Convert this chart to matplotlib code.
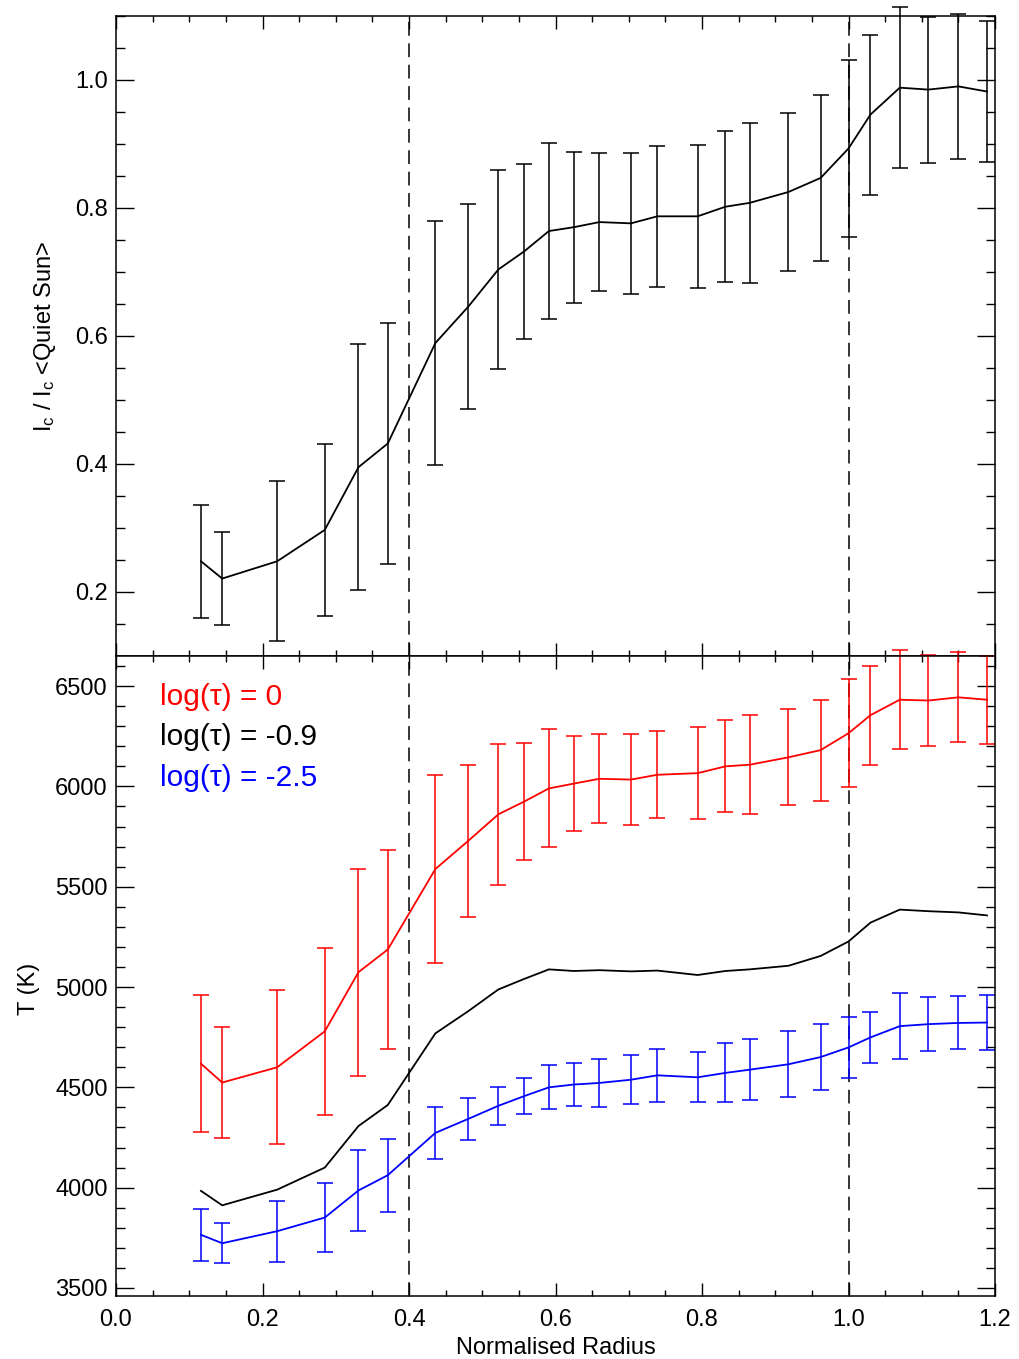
"""Continuum intensity and temperature against normalised radius, two stacked panels."""
import matplotlib
matplotlib.use("Agg")
import matplotlib.pyplot as plt
from matplotlib.ticker import MultipleLocator

plt.rcParams.update({
    "font.family": ["Liberation Sans", "DejaVu Sans"],
    "font.size": 17,
    "mathtext.default": "regular",
    "axes.linewidth": 1.1,
})

RED = "#ff0000"
BLUE = "#0000ff"
INK = "#000000"

radius = [0.116, 0.145, 0.220, 0.285, 0.331, 0.371, 0.436, 0.481, 0.522, 0.557,
          0.591, 0.625, 0.660, 0.703, 0.739, 0.794, 0.832, 0.865, 0.918, 0.962,
          1.000, 1.030, 1.070, 1.109, 1.150, 1.189]

# continuum intensity, normalised to the quiet sun
ic = [0.248, 0.221, 0.248, 0.297, 0.395, 0.432, 0.589, 0.646, 0.704, 0.732,
      0.764, 0.770, 0.778, 0.776, 0.787, 0.787, 0.802, 0.808, 0.825, 0.847,
      0.893, 0.946, 0.988, 0.985, 0.990, 0.982]
ic_err = [0.088, 0.072, 0.125, 0.135, 0.192, 0.188, 0.190, 0.160, 0.155, 0.137,
          0.138, 0.118, 0.108, 0.110, 0.110, 0.112, 0.118, 0.125, 0.124, 0.130,
          0.138, 0.125, 0.126, 0.114, 0.113, 0.110]

# temperature at log(tau) = 0
t0 = [4618, 4524, 4600, 4779, 5074, 5187, 5588, 5729, 5861, 5924,
      5990, 6014, 6038, 6034, 6058, 6066, 6100, 6108, 6145, 6181,
      6265, 6355, 6432, 6428, 6444, 6432]
t0_err = [340, 275, 383, 418, 515, 494, 467, 379, 352, 293,
          294, 238, 221, 227, 216, 228, 230, 247, 239, 252,
          270, 246, 247, 225, 225, 219]

# temperature at log(tau) = -0.9
t09 = [3984, 3912, 3990, 4100, 4307, 4412, 4769, 4880, 4988, 5040,
       5088, 5080, 5084, 5078, 5082, 5060, 5080, 5088, 5106, 5155,
       5227, 5321, 5386, 5378, 5372, 5357]

# temperature at log(tau) = -2.5
t25 = [3765, 3723, 3783, 3851, 3986, 4062, 4273, 4343, 4408, 4456,
       4500, 4514, 4522, 4538, 4560, 4550, 4572, 4588, 4615, 4651,
       4699, 4749, 4805, 4815, 4821, 4823]
t25_err = [131, 100, 153, 172, 200, 182, 130, 105, 95, 90,
           110, 107, 118, 122, 133, 124, 147, 153, 165, 165,
           153, 126, 165, 135, 132, 135]

boundaries = [0.4, 1.0]

W, H = 1019, 1359
fig = plt.figure(figsize=(W / 100, H / 100), dpi=100)
left, right = 116 / W, 995 / W
ax1 = fig.add_axes([left, 1 - 656 / H, right - left, 640 / H])
ax2 = fig.add_axes([left, 1 - 1296 / H, right - left, 640 / H])

eb = dict(linewidth=1.3, elinewidth=1.1, capsize=5.5, capthick=1.1, clip_on=False)

ax1.errorbar(radius, ic, yerr=ic_err, color=INK, **eb)
ax2.errorbar(radius, t0, yerr=t0_err, color=RED, **eb)
ax2.plot(radius, t09, color=INK, linewidth=1.3)
ax2.errorbar(radius, t25, yerr=t25_err, color=BLUE, **eb)

for ax in (ax1, ax2):
    for xb in boundaries:
        ax.axvline(xb, color=INK, linewidth=1.1, linestyle=(0, (9, 5)), zorder=1)
    ax.set_xlim(0, 1.2)
    ax.xaxis.set_major_locator(MultipleLocator(0.2))
    ax.xaxis.set_minor_locator(MultipleLocator(0.05))
    ax.tick_params(axis="both", which="both", direction="in",
                   top=True, right=True, width=1.0)
    ax.tick_params(axis="x", which="major", length=9.2, pad=9)
    ax.tick_params(axis="x", which="minor", length=4.6)
    ax.tick_params(axis="y", which="major", length=12.7, pad=6)
    ax.tick_params(axis="y", which="minor", length=6.3)

ax1.set_ylim(0.1, 1.1)
ax1.yaxis.set_major_locator(MultipleLocator(0.2))
ax1.yaxis.set_minor_locator(MultipleLocator(0.05))
ax1.set_yticks([0.2, 0.4, 0.6, 0.8, 1.0])
ax1.tick_params(axis="x", labelbottom=False)
ax1.set_ylabel(r"I$_c$ / I$_c$ <Quiet Sun>")
ax1.yaxis.set_label_coords(-0.066, 0.5)

ax2.set_ylim(3460, 6650)
ax2.yaxis.set_major_locator(MultipleLocator(500))
ax2.yaxis.set_minor_locator(MultipleLocator(100))
ax2.set_xticks([0.0, 0.2, 0.4, 0.6, 0.8, 1.0, 1.2])
ax2.set_xticklabels(["0.0", "0.2", "0.4", "0.6", "0.8", "1.0", "1.2"])
ax2.set_ylabel("T (K)")
ax2.yaxis.set_label_coords(-0.086, 0.48)
ax2.set_xlabel("Normalised Radius", labelpad=5)

for y, txt, c in [(0.936, "log(τ) = 0", RED),
                  (0.873, "log(τ) = -0.9", INK),
                  (0.809, "log(τ) = -2.5", BLUE)]:
    ax2.text(0.05, y, txt, color=c, fontsize=21.5, transform=ax2.transAxes,
             ha="left", va="center")

fig.savefig("out.png", dpi=100)
